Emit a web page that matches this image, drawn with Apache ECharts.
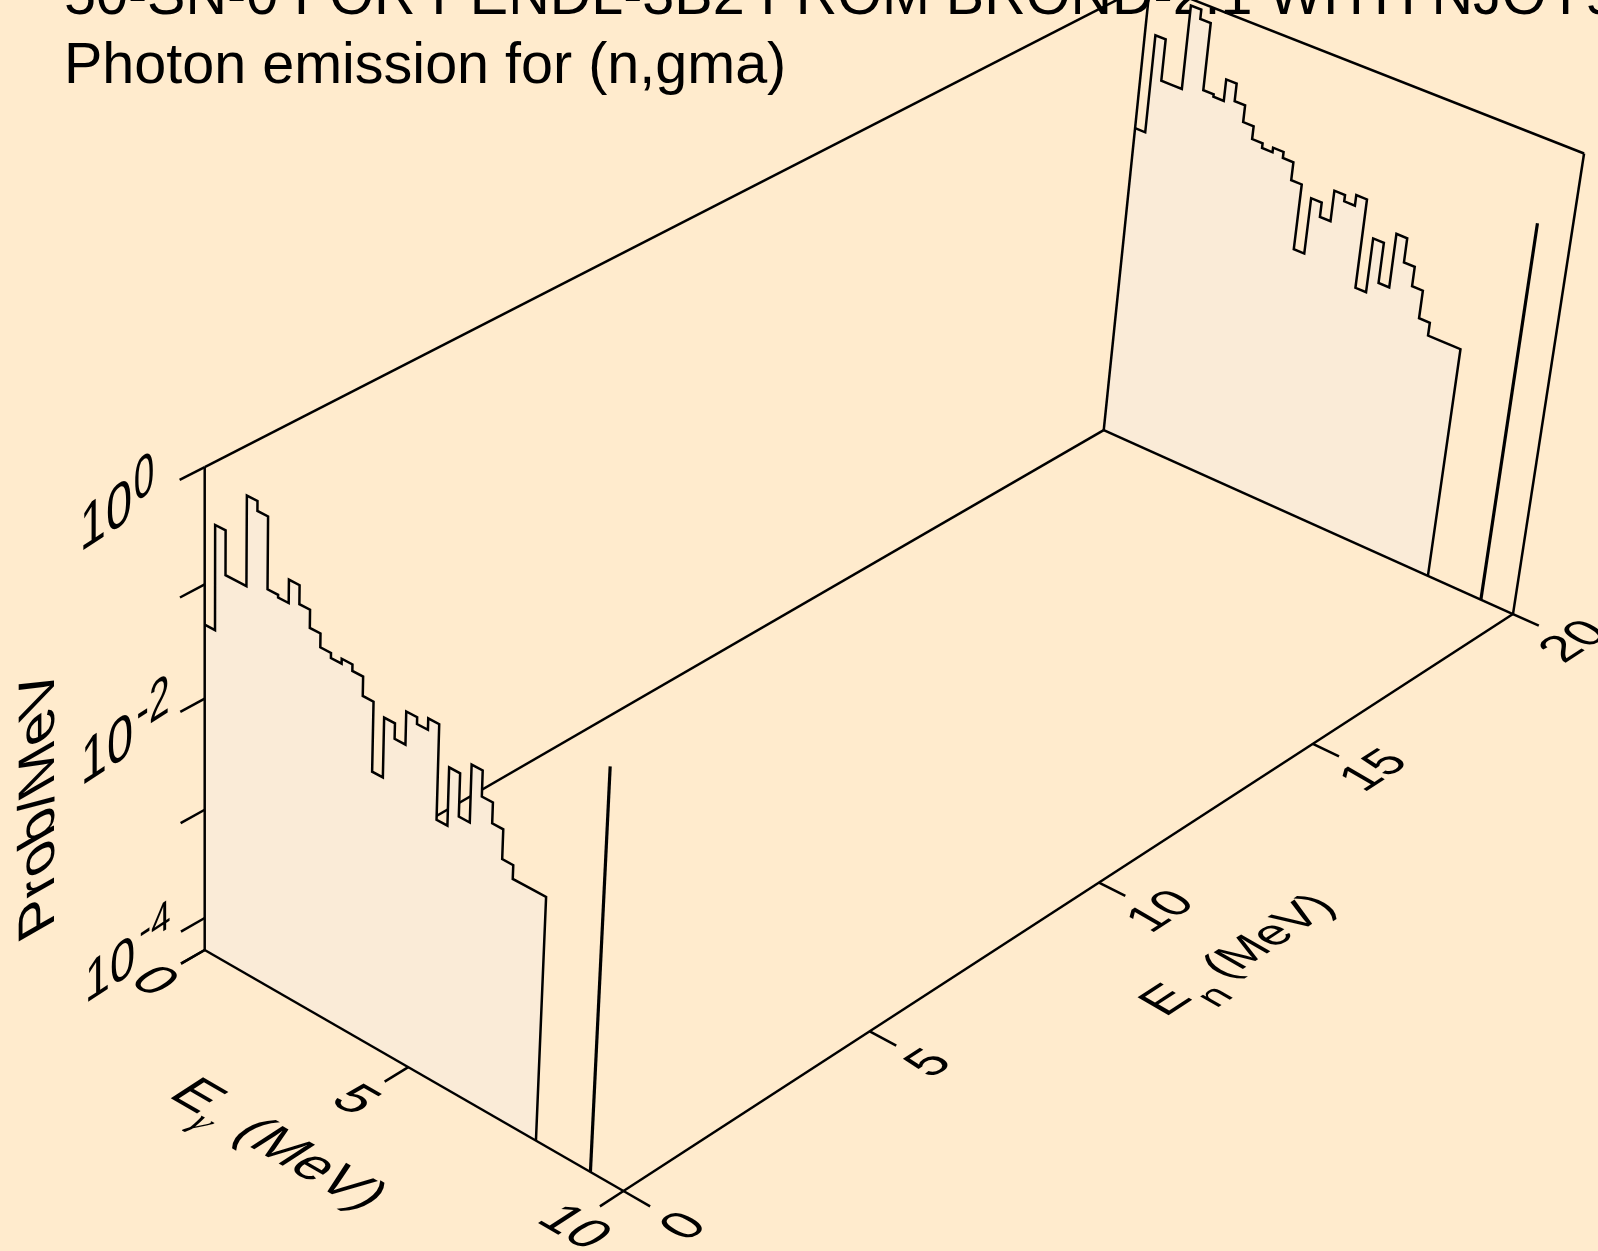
<!DOCTYPE html>
<html><head><meta charset="utf-8">
<style>html,body{margin:0;padding:0;background:#FFEBCD}#c{width:1598px;height:1251px}</style>
<script src="https://cdn.jsdelivr.net/npm/echarts@6/dist/echarts.min.js"></script>
</head><body><div id="c"></div>
<script>
// ---- data ----
const titleLines = ['50-SN-0 FOR PENDL-3B2 FROM BROND-2.1 WITH NJOY99', 'Photon emission for (n,gma)'];
const slicesEn = [0, 20];               // MeV, incident neutron energies
const binWidth = 0.25;                  // MeV
const probPerMeV = [
 0.0447,0.360,0.149,0.149,0.875,0.721,0.174,0.165,0.261,0.180,0.126,0.0959,
 0.0867,0.0957,0.0841,0.0574,0.0142,0.0469,0.0345,0.0664,0.0581,0.0728,0.0109,0.0348,
 0.0147,0.0464,0.0277,0.0183,0.0101,0.00766,0.00766,0.00766];
const lineEg = 9.25, lineProb = 0.18;   // discrete gamma line
const egTicks = [0,5,10], enTicks = [0,5,10,15,20];
const probMajor = [1,0.1,0.01,0.001,0.0001, 0.00005];
const egRange=[0,10], enRange=[0,20], probRange=[5e-5,1];

// ---- perspective box -> screen ----
const O=[204.7,950], Vx=[-7136,-3275], Vy=[7498,-3268], Vz=[204.7,9090];
const ka=-0.05397, kb=0.1406, kc=-0.0560;
const tOf=p=>(Math.log10(p)-Math.log10(probRange[0]))/(Math.log10(probRange[1])-Math.log10(probRange[0]));
function proj(eg,en,p){
  const u=eg/egRange[1], v=en/enRange[1], t=p===null?0:tOf(p);
  const d=1+ka*u+kb*v+kc*t;
  return [(ka*u*Vx[0]+kb*v*Vy[0]+kc*t*Vz[0]+O[0])/d,(ka*u*Vx[1]+kb*v*Vy[1]+kc*t*Vz[1]+O[1])/d];
}
const pMin=probRange[0], pMax=probRange[1];
function histPts(en){
  const pts=[];
  probPerMeV.forEach((p,i)=>{pts.push(proj(i*binWidth,en,p));pts.push(proj((i+1)*binWidth,en,p));});
  pts.push(proj(probPerMeV.length*binWidth,en,pMin));
  return pts;
}
const LW=2.5;
const lineSeries=(name,data,w,z)=>({type:'line',name,data,symbol:'none',clip:false,silent:true,z:z||3,
  lineStyle:{color:'#000',width:w||LW,join:'miter'},itemStyle:{color:'#000'},animation:false});

const series=[];
// hidden / back edges
series.push(lineSeries('floor-left',[proj(0,0,pMin),proj(0,20,pMin)],LW,2));
series.push(lineSeries('top-left',[proj(0,0,pMax),proj(0,20,pMax)],LW,2));
series.push(lineSeries('top-back',[proj(0,20,pMax),proj(10,20,pMax)],LW,2));
series.push(lineSeries('right-vert',[proj(10,20,pMin),proj(10,20,pMax)],LW,2));
series.push(lineSeries('back-vert',[proj(0,20,pMin),proj(0,20,pMax)],LW,5));
series.push(lineSeries('back-floor',[proj(0,20,pMin),proj(10,20,pMin)],LW,5));
// slices back to front
[slicesEn[1],slicesEn[0]].forEach((en,k)=>{
  const z=4+k*2;
  series.push({type:'custom',name:'fill'+en,silent:true,clip:false,z,animation:false,
    data:[0],renderItem:(params,api)=>{
      const pts=[proj(0,en,pMin)].concat(histPts(en)).map(q=>api.coord(q));
      return {type:'polygon',shape:{points:pts},style:{fill:'#FAEBD7'}};
    }});
  series.push(lineSeries('hist'+en,histPts(en),LW,z+1));
  series.push(lineSeries('gline'+en,[proj(lineEg,en,pMin),proj(lineEg,en,lineProb)],3.2,z+1));
});
// front axes
series.push(lineSeries('axis-z',[proj(0,0,pMin),proj(0,0,pMax)],LW,9));
series.push(lineSeries('axis-eg',[proj(0,0,pMin),proj(10,0,pMin)],LW,9));
series.push(lineSeries('axis-en',[proj(10,0,pMin),proj(10,20,pMin)],LW,9));
// ticks
probMajor.forEach((p,i)=>series.push(lineSeries('tz'+i,[proj(0,0,p),proj(0,-0.46,p)],LW,9)));
egTicks.forEach((e,i)=>series.push(lineSeries('teg'+i,[proj(e,0,pMin),proj(e,-0.46,pMin)],LW,9)));
enTicks.forEach((e,i)=>series.push(lineSeries('ten'+i,[proj(10,e,pMin),proj(10.6,e,pMin)],LW,9)));

// ---- text lying in the planes of the box ----
const EG=[0.867,0.499], EN=[0.839,-0.544], UP=[0,-1], ENUP=[-0.867,-0.499];
const sc=(v,k)=>[v[0]*k,v[1]*k];
// text: string, centre x,y, baseline vector, glyph-up vector, font size
const texts=[
 // Prob axis
 ['10',106,518,EN,sc(UP,1.12),56],['0',144,480,EN,sc(UP,1.35),44],
 ['10',107,752,EN,sc(UP,1.12),56],['-2',153,706,EN,sc(UP,1.3),44],
 ['10',110,972,EN,sc(UP,1.05),54],['-4',155,925,EN,UP,42],
 ['Prob/MeV',40,803,[0,-1],[-0.87,0.5],59],
 // Eg ticks
 ['0',153,982,EG,EN,54],['5',354,1101,EG,EN,54],['10',573,1228,EG,EN,54],
 // En ticks
 ['0',685,1227,EN,ENUP,52],['5',930,1064,EN,ENUP,52],
 ['10',1162,912,EN,ENUP,50],['15',1375,771,EN,ENUP,50],['20',1575,642,EN,ENUP,50],
 // axis titles
 ['E',196,1097,EG,EN,56],['γ',201,1123,EG,EN,38,'Liberation Serif','italic'],['(MeV)',309,1165,EG,EN,56],
 ['E',1167,1001,EN,ENUP,52],['n',1216,997,EN,ENUP,40],['(MeV)',1270,937,EN,ENUP,49]
];
function textEl(a,api){
  const [s,x,y,e,up,size,fam,sty]=a;
  const phi=Math.atan2(e[1],e[0]);
  const w=[-up[0],-up[1]];                 // local +y
  const ex=Math.cos(phi), ey=Math.sin(phi);
  const c=w[0]*ex+w[1]*ey, d=-w[0]*ey+w[1]*ex;
  return {type:'text',x,y,rotation:-phi,scaleX:Math.hypot(e[0],e[1]),scaleY:d,skewX:Math.atan(c/d),
    style:{text:s,fontSize:size,fontFamily:fam||'Liberation Sans',fontStyle:sty||'normal',fill:'#000',
      align:'center',verticalAlign:'middle'}};
}
series.push({type:'custom',name:'labels',silent:true,clip:false,z:10,animation:false,data:[0],
  renderItem:(p,api)=>({type:'group',children:texts.map(t=>textEl(t,api))})});

const chart=echarts.init(document.getElementById('c'),null,{renderer:'canvas'});
chart.setOption({
  animation:false,backgroundColor:'#FFEBCD',
  title:{text:titleLines.join('\n'),left:59,top:-41,itemGap:0,
    textStyle:{fontFamily:'Liberation Sans',fontWeight:'normal',fontSize:57.5,lineHeight:69,color:'#000'},z:0},
  grid:{left:0,right:0,top:0,bottom:0,containLabel:false},
  xAxis:{type:'value',min:0,max:1598,show:false},
  yAxis:{type:'value',min:0,max:1251,inverse:true,show:false},
  tooltip:{show:false},legend:{show:false},
  series
});
</script></body></html>
